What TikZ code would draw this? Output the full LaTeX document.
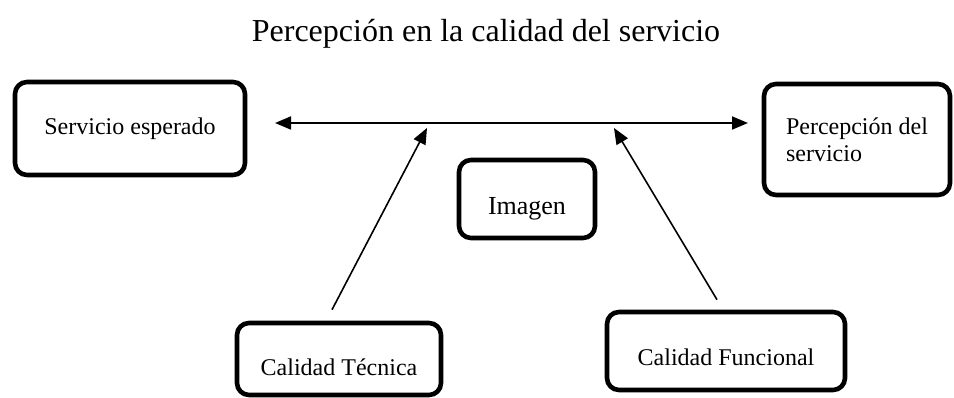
\documentclass[tikz,border=0pt]{standalone}
\usepackage{fontspec}
\setmainfont{Liberation Serif}
\usetikzlibrary{arrows.meta, positioning}

\begin{document}
\begin{tikzpicture}[
        x=1pt, y=-1pt,
        caja/.style={draw, line width=4.6pt, rounded corners=12pt, inner sep=0pt,
            font=\fontsize{24}{27}\selectfont},
        flecha/.style={line width=1.6pt, -{Triangle[length=16pt, width=13pt]}},
        dobleflecha/.style={line width=1.8pt, {Triangle[length=16pt, width=13pt]}-{Triangle[length=16pt, width=13pt]}}
    ]
    \useasboundingbox (0,0) rectangle (954,398);

    % Title
    \node[anchor=base, font=\fontsize{32}{38}\selectfont] (titulo) at (486,42)
        {Percepción en la calidad del servicio};

    % Boxes
    \node[caja, minimum width=230pt, minimum height=93pt] (esperado) at (130,128.5)
        {Servicio esperado};
    \node[caja, minimum width=186pt, minimum height=111pt, align=left] (percepcion) at (857,139.5)
        {Percepción del\\servicio};
    \node[caja, minimum width=136pt, minimum height=78pt, text height=36pt, text depth=4pt,
        font=\fontsize{26}{30}\selectfont] (imagen) at (527,199)
        {Imagen};
    \node[caja, minimum width=204pt, minimum height=72pt, text height=36pt, text depth=4pt] (tecnica) at (339,359)
        {Calidad Técnica};
    \node[caja, minimum width=238pt, minimum height=78pt, text height=32pt, text depth=4pt] (funcional) at (726,351)
        {Calidad Funcional};

    % Free ends of the arrows
    \coordinate (izq) at (275,123);
    \coordinate (der) at (748,123);
    \coordinate (puntaT) at (427,128);
    \coordinate (puntaF) at (614,128);

    % Arrows
    \draw[dobleflecha] (izq) -- (der);
    \draw[flecha] ([shift={(-7,-11)}]tecnica.north) -- (puntaT);
    \draw[flecha] ([shift={(-9,-10)}]funcional.north) -- (puntaF);

\end{tikzpicture}
\end{document}
